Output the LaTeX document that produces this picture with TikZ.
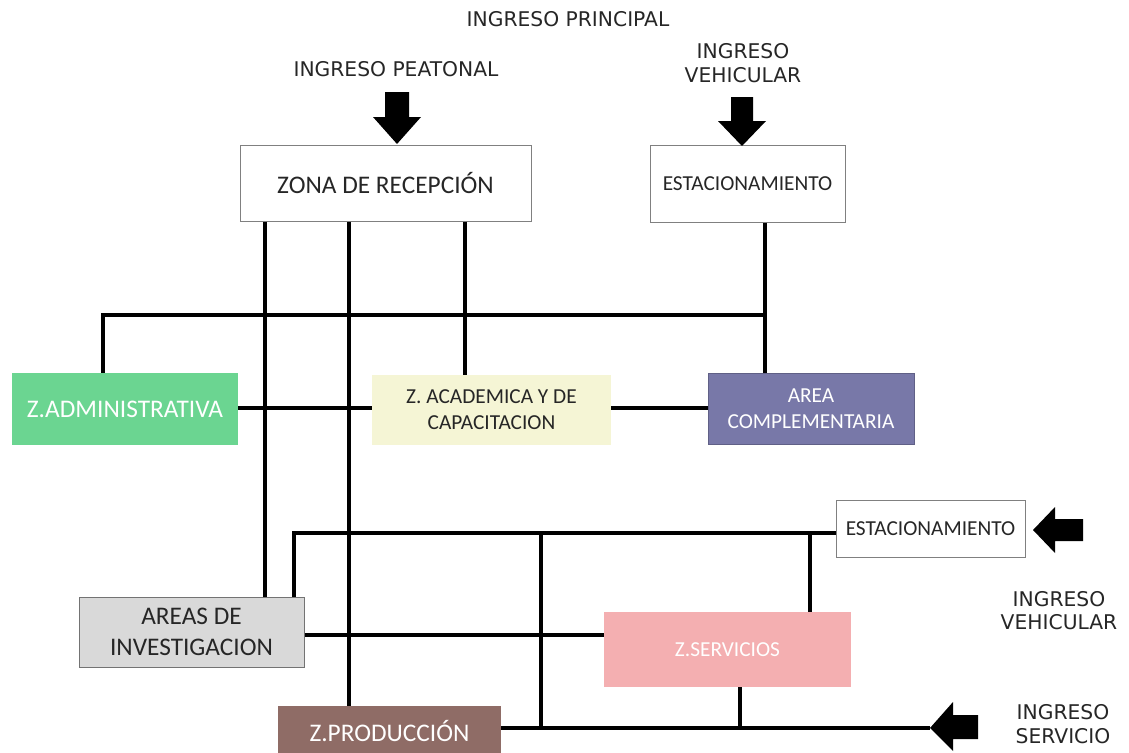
\documentclass[tikz,border=0pt]{standalone}
\usepackage{fontspec}
\setmainfont{Carlito}
\newfontfamily\labelfont{DejaVu Sans}
\usepackage{tikz}
\usetikzlibrary{shapes}
\usepackage{xcolor}

\definecolor{admgreen}{RGB}{107,213,145}
\definecolor{acadyellow}{RGB}{245,245,213}
\definecolor{compviolet}{RGB}{120,120,168}
\definecolor{invgray}{RGB}{217,217,217}
\definecolor{servpink}{RGB}{244,175,177}
\definecolor{prodbrown}{RGB}{143,108,102}

\begin{document}
\begin{tikzpicture}[x=0.75pt,y=0.75pt,yscale=-1,xscale=1,
  zone/.style={inner sep=0pt, align=center, text=black!85},
  bigtxt/.style={font=\fontsize{19}{23}\selectfont},
  smalltxt/.style={font=\fontsize{16}{19.5}\selectfont},
  wire/.style={line width=3pt},
  tag/.style={inner sep=0.75pt, align=center, text=black!85, font=\labelfont\fontsize{15.2}{17.5}\selectfont}]
\useasboundingbox (0,0) rectangle (1129,753);

% Zones
\node [zone, bigtxt, draw=black!50, line width=0.75, minimum width=218.25pt, minimum height=57pt] (zona) at (385.5,183) {ZONA DE RECEPCIÓN};
\node [zone, smalltxt, draw=black!50, line width=0.75, minimum width=146.25pt, minimum height=57.75pt] (estA) at (747.5,183.5) {ESTACIONAMIENTO};
\node [zone, bigtxt, fill=admgreen, text=white, minimum width=169.5pt, minimum height=54pt] (adm) at (125,409) {Z.ADMINISTRATIVA};
\node [zone, smalltxt, fill=acadyellow, minimum width=179.25pt, minimum height=52.5pt] (acad) at (491.5,410) {Z. ACADEMICA Y DE\\CAPACITACION};
\node [zone, smalltxt, fill=compviolet, draw=compviolet!80!black, line width=0.75, text=white, minimum width=154.5pt, minimum height=53.25pt] (comp) at (811,408.5) {AREA\\COMPLEMENTARIA};
\node [zone, bigtxt, fill=invgray, draw=black!55, line width=0.75, minimum width=168.75pt, minimum height=52.5pt] (inv) at (191.5,632) {AREAS DE\\INVESTIGACION};
\node [zone, smalltxt, draw=black!50, line width=0.75, minimum width=141.75pt, minimum height=42.75pt] (estB) at (930.5,528.5) {ESTACIONAMIENTO};
\node [zone, smalltxt, fill=servpink, text=white, minimum width=185.25pt, minimum height=56.25pt] (serv) at (727.5,649.5) {Z.SERVICIOS};
\node [zone, bigtxt, fill=prodbrown, text=white, minimum width=167.25pt, minimum height=37.5pt] (prod) at (389.5,731) {Z.PRODUCCIÓN};

% Junctions
\coordinate (xInv) at (265,0);
\coordinate (xProd) at (349,0);
\coordinate (xAcad) at (465,0);
\coordinate (xComp) at (765,0);
\coordinate (xAdm) at (103,0);
\coordinate (xLoop) at (294,0);
\coordinate (xSplit) at (541,0);
\coordinate (xServ) at (810,0);
\coordinate (xServB) at (740,0);
\coordinate (hTop) at (0,315);
\coordinate (hMid) at (0,408);
\coordinate (hLoop) at (0,533);
\coordinate (hLow) at (0,635);
\coordinate (hBot) at (0,728);
\coordinate (tipS) at (930,728);

% Connectors
\draw [wire] (zona.south -| xInv) -- (inv.north -| xInv);
\draw [wire] (zona.south -| xProd) -- (prod.north -| xProd);
\draw [wire] (zona.south -| xAcad) -- (acad.north -| xAcad);
\draw [wire] (estA.south -| xComp) -- (comp.north -| xComp);
\draw [wire] (adm.north -| xAdm) -- (xAdm |- hTop) -- (xComp |- hTop);
\draw [wire] (adm.east |- hMid) -- (acad.west |- hMid);
\draw [wire] (acad.east |- hMid) -- (comp.west |- hMid);
\draw [wire] (inv.north -| xLoop) |- (estB.west |- hLoop);
\draw [wire] (xSplit |- hLoop) -- (xSplit |- hBot);
\draw [wire] (xServ |- hLoop) -- (serv.north -| xServ);
\draw [wire] (inv.east |- hLow) -- (serv.west |- hLow);
\draw [wire] (serv.south -| xServB) -- (xServB |- hBot);
\draw [wire] (prod.east |- hBot) -- (tipS);

%Shape: Block Arrows
\fill (385,92) -- (409,92) -- (409,117) -- (421,117) -- (397,144) -- (373,117) -- (385,117) -- cycle ;
\fill (731,97) -- (753,97) -- (753,121) -- (766,121) -- (742,146) -- (718,121) -- (731,121) -- cycle ;
\fill (1083,519) -- (1083,541) -- (1055,541) -- (1055,553) -- (1033,530) -- (1055,507) -- (1055,519) -- cycle ;
\fill (978,715) -- (978,739) -- (953,739) -- (953,751) -- (tipS) -- (953,702) -- (953,715) -- cycle ;

% Text Node
\node [tag] (tPrin) at (568,19) {INGRESO PRINCIPAL};
% Text Node
\node [tag] (tPeat) at (396,69) {INGRESO PEATONAL};
% Text Node
\node [tag] (tVehA) at (743,63) {INGRESO\\VEHICULAR};
% Text Node
\node [tag] (tVehB) at (1059,610.5) {INGRESO\\VEHICULAR};
% Text Node
\node [tag] (tServ) at (1063,724) {INGRESO\\SERVICIO};

\end{tikzpicture}
\end{document}
